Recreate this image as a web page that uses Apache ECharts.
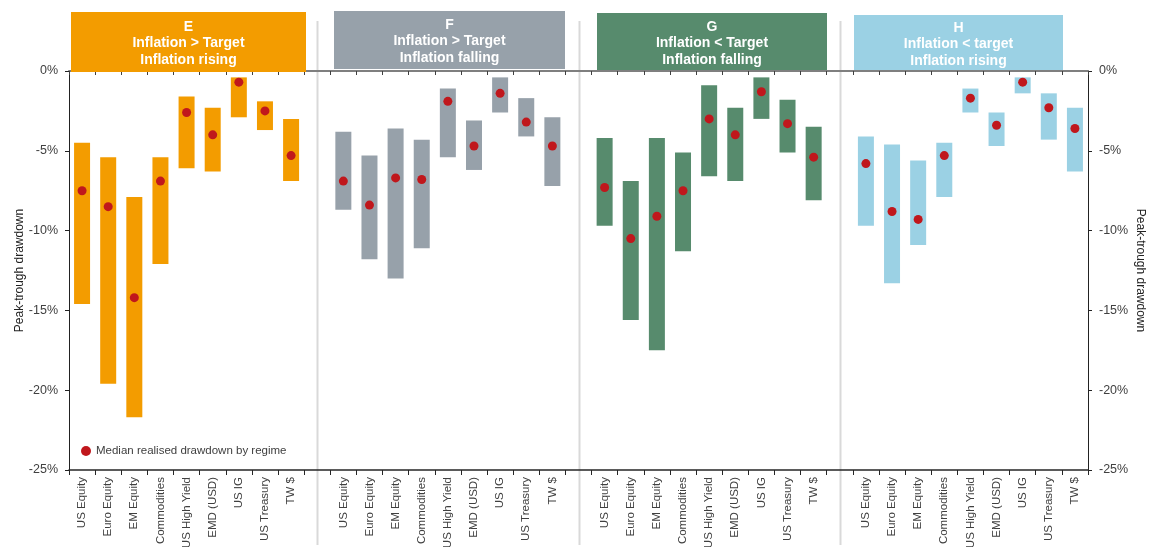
<!DOCTYPE html>
<html>
<head>
<meta charset="utf-8">
<script src="https://cdn.jsdelivr.net/npm/echarts@6/dist/echarts.min.js"></script>
<style>
html, body { margin: 0; padding: 0; background: #fff; }
#main { width: 1158px; height: 547px; }
</style>
</head>
<body>
<div id="main"></div>
<script>
// asset classes shown in every regime panel
var assets = ['US Equity', 'Euro Equity', 'EM Equity', 'Commodities', 'US High Yield', 'EMD (USD)', 'US IG', 'US Treasury', 'TW $'];

// regime headers
var regimeTitles = [
    'E\nInflation > Target\nInflation rising',
    'F\nInflation > Target\nInflation falling',
    'G\nInflation < Target\nInflation falling',
    'H\nInflation < target\nInflation rising'
];

// drawdown ranges (%), shallow end / deep end / median
var eShallow = [-4.5, -5.4, -7.9, -5.4, -1.6, -2.3, -0.4, -1.9, -3.0];
var eDeep    = [-14.6, -19.6, -21.7, -12.1, -6.1, -6.3, -2.9, -3.7, -6.9];
var eMedian  = [-7.5, -8.5, -14.2, -6.9, -2.6, -4.0, -0.7, -2.5, -5.3];

var fShallow = [-3.8, -5.3, -3.6, -4.3, -1.1, -3.1, -0.4, -1.7, -2.9];
var fDeep    = [-8.7, -11.8, -13.0, -11.1, -5.4, -6.2, -2.6, -4.1, -7.2];
var fMedian  = [-6.9, -8.4, -6.7, -6.8, -1.9, -4.7, -1.4, -3.2, -4.7];

var gShallow = [-4.2, -6.9, -4.2, -5.1, -0.9, -2.3, -0.4, -1.8, -3.5];
var gDeep    = [-9.7, -15.6, -17.5, -11.3, -6.6, -6.9, -3.0, -5.1, -8.1];
var gMedian  = [-7.3, -10.5, -9.1, -7.5, -3.0, -4.0, -1.3, -3.3, -5.4];

var hShallow = [-4.1, -4.6, -5.6, -4.5, -1.1, -2.6, -0.4, -1.4, -2.3];
var hDeep    = [-9.7, -13.3, -10.9, -7.9, -2.6, -4.7, -1.4, -4.3, -6.3];
var hMedian  = [-5.8, -8.8, -9.3, -5.3, -1.7, -3.4, -0.7, -2.3, -3.6];

var yTicks = { min: -25, max: 0, step: 5 };

var regimeColors = ['#f39c00', '#97a1aa', '#578b6d', '#9bd1e4'];
var dotColor = '#c0171c';
var textColor = '#404040';
var fontFamily = 'Liberation Sans, Arial, sans-serif';

var shallowSets = [eShallow, fShallow, gShallow, hShallow];
var deepSets = [eDeep, fDeep, gDeep, hDeep];
var medianSets = [eMedian, fMedian, gMedian, hMedian];

// one long category axis, an empty slot between panels
var categories = [];
var baseData = [];
var rangeData = [];
var medianData = [];
for (var p = 0; p < 4; p++) {
    if (p > 0) {
        categories.push('');
        baseData.push('-');
        rangeData.push('-');
        medianData.push('-');
    }
    for (var i = 0; i < assets.length; i++) {
        categories.push(assets[i]);
        baseData.push(shallowSets[p][i]);
        rangeData.push({
            value: +(deepSets[p][i] - shallowSets[p][i]).toFixed(2),
            itemStyle: { color: regimeColors[p] }
        });
        medianData.push(medianSets[p][i]);
    }
}

var W = 1158, H = 547;
var gridLeft = 69, gridRight = 70, gridTop = 71, gridBottom = 77;
var catW = (W - gridLeft - gridRight) / categories.length;

// header boxes (x0, x1, y0, y1, text top)
var headerBoxes = [
    [71, 306, 12, 72, 18.5],
    [334, 565, 11, 69, 16.5],
    [597, 827, 13, 70, 18.5],
    [854, 1063, 15, 70, 19.5]
];

var graphics = [];
for (var s = 0; s < 3; s++) {
    var sx = Math.round(gridLeft + catW * (9.5 + s * 10)) + 0.5;
    graphics.push({
        type: 'line', z: 0, silent: true,
        shape: { x1: sx, y1: 21, x2: sx, y2: 545 },
        style: { stroke: '#d9d9d9', lineWidth: 2 }
    });
}
for (var k = 0; k < 4; k++) {
    var b = headerBoxes[k];
    graphics.push({
        type: 'rect', z: 10, silent: true,
        shape: { x: b[0], y: b[2], width: b[1] - b[0], height: b[3] - b[2] },
        style: { fill: regimeColors[k] }
    });
    graphics.push({
        type: 'text', z: 11, silent: true,
        x: (b[0] + b[1]) / 2, y: b[4],
        style: {
            text: regimeTitles[k],
            fill: '#fff',
            fontSize: 14,
            fontWeight: 'bold',
            fontFamily: fontFamily,
            lineHeight: 16.5,
            align: 'center',
            verticalAlign: 'top'
        }
    });
}

var myChart = echarts.init(document.getElementById('main'));

var yAxisBase = function (pos) {
    return {
        type: 'value',
        position: pos,
        min: yTicks.min,
        max: yTicks.max,
        interval: yTicks.step,
        name: 'Peak-trough drawdown',
        nameLocation: 'middle',
        nameGap: pos === 'left' ? 43 : 46,
        nameMoveOverlap: false,
        nameRotate: pos === 'left' ? 90 : -90,
        nameTextStyle: { color: '#222', fontSize: 12, fontFamily: fontFamily },
        axisLine: { show: true, onZero: false, lineStyle: { color: '#222', width: 1 } },
        axisTick: { show: true, length: 4, lineStyle: { color: '#222' } },
        axisLabel: {
            formatter: '{value}%',
            color: textColor,
            fontSize: 12.5,
            fontFamily: fontFamily,
            margin: 11
        },
        splitLine: { show: false }
    };
};

option = {
    animation: false,
    backgroundColor: '#fff',
    grid: {
        left: gridLeft, right: gridRight, top: gridTop, bottom: gridBottom,
        containLabel: false,
        outerBoundsMode: 'none'
    },
    legend: {
        data: [{ name: 'Median realised drawdown by regime', icon: 'circle' }],
        left: 81,
        top: 445,
        padding: 0,
        itemWidth: 10,
        itemHeight: 10,
        textStyle: { color: textColor, fontSize: 11.5, fontFamily: fontFamily }
    },
    xAxis: [{
        type: 'category',
        position: 'bottom',
        data: categories,
        axisLine: { onZero: false, lineStyle: { color: '#262626', width: 1.5 } },
        axisTick: { show: true, interval: 0, length: 5, lineStyle: { color: '#262626' } },
        axisLabel: {
            interval: 0,
            rotate: 90,
            color: textColor,
            fontSize: 11.5,
            fontFamily: fontFamily,
            margin: 7
        },
        splitLine: { show: false }
    }, {
        type: 'category',
        position: 'top',
        data: categories,
        axisLine: { onZero: false, lineStyle: { color: '#7f7f7f', width: 2 } },
        axisTick: { show: true, inside: true, interval: 0, length: 4, lineStyle: { color: '#404040' } },
        axisLabel: { show: false },
        splitLine: { show: false }
    }],
    yAxis: [yAxisBase('left'), yAxisBase('right')],
    graphic: graphics,
    series: [{
        name: 'base',
        type: 'bar',
        stack: 'range',
        barWidth: 16,
        itemStyle: { color: 'rgba(0,0,0,0)' },
        silent: true,
        data: baseData
    }, {
        name: 'range',
        type: 'bar',
        stack: 'range',
        barWidth: 16,
        data: rangeData
    }, {
        name: 'Median realised drawdown by regime',
        type: 'scatter',
        symbol: 'circle',
        symbolSize: 9,
        itemStyle: { color: dotColor, opacity: 1 },
        z: 5,
        data: medianData
    }]
};

myChart.setOption(option);
</script>
</body>
</html>
